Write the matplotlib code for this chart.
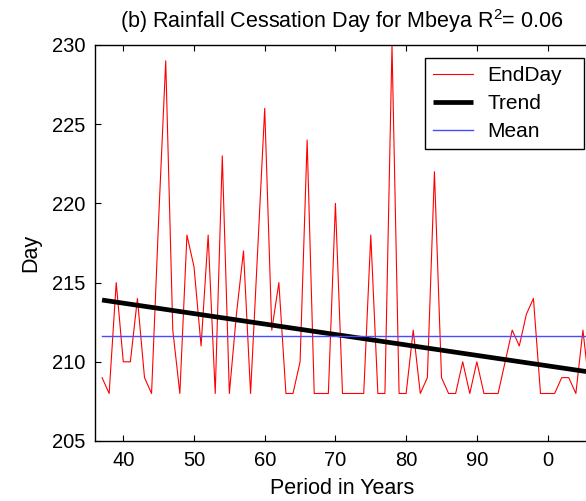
import matplotlib
matplotlib.use("Agg")
import matplotlib.pyplot as plt
import numpy as np

plt.rcParams["font.family"] = ["Liberation Sans", "DejaVu Sans"]
plt.rcParams["mathtext.fontset"] = "custom"
plt.rcParams["mathtext.rm"] = "Liberation Sans"

# cessation day per year (1937-2006)
years = list(range(1937, 2007))
end_day = [209, 208, 215, 210, 210, 214, 209, 208, 219, 229,
           212, 208, 218, 216, 211, 218, 208, 223, 208, 213,
           217, 208, 217, 226, 212, 215, 208, 208, 210, 224,
           208, 208, 208, 220, 208, 208, 208, 208, 218, 208,
           208, 230, 208, 208, 212, 208, 209, 222, 209, 208,
           208, 210, 208, 210, 208, 208, 208, 210, 212, 211,
           213, 214, 208, 208, 208, 209, 209, 208, 212, 208]
trend_years = [1937, 2006]
trend_vals = [213.9, 209.35]
mean_day = 211.63

xticks = [40, 50, 60, 70, 80, 90, 100]
xticklabels = ["40", "50", "60", "70", "80", "90", "0"]
yticks = [205, 210, 215, 220, 225, 230]

W, H = 586, 501
fig = plt.figure(figsize=(W / 100, H / 100), dpi=100)
ax = fig.add_axes([95 / W, 1 - 441 / H, 495 / W, 396 / H])

x = np.array(years) - 1900
ax.plot(x, end_day, color="#ff0000", lw=0.8, label="EndDay")
ax.plot(np.array(trend_years) - 1900, trend_vals, color="black", lw=3.4,
        label="Trend", solid_capstyle="butt")
ax.plot([x[0], x[-1]], [mean_day, mean_day], color="#4a4aff", lw=1.0,
        label="Mean")

ax.set_xlim(36, 106)
ax.set_ylim(205, 230)
ax.set_xticks(xticks)
ax.set_xticklabels(xticklabels)
ax.set_yticks(yticks)
ax.tick_params(direction="in", length=4, width=0.8, top=True, right=False,
               labelsize=14.5, colors="black")
ax.tick_params(axis="x", pad=7)
ax.tick_params(axis="y", pad=7)
for s in ax.spines.values():
    s.set_linewidth(1.0)
ax.spines["right"].set_visible(False)

fig.text(342 / W, 1 - 21 / H,
         r"(b) Rainfall Cessation Day for Mbeya $\mathregular{R^{2}}$= 0.06",
         ha="center", va="center", fontsize=15.5)
fig.text(342 / W, 1 - 488 / H, "Period in Years", ha="center", va="center",
         fontsize=15.5)
fig.text(31 / W, 1 - 253 / H, "Day", ha="center", va="center", rotation=90,
         fontsize=15.5)

leg = ax.legend(loc="upper left",
                bbox_to_anchor=(425 / W, 1 - 150 / H, 159 / W, 92 / H),
                bbox_transform=fig.transFigure, borderaxespad=0, mode="expand",
                fancybox=False, edgecolor="black", framealpha=1,
                fontsize=15, handlelength=1.9, handletextpad=0.7,
                labelspacing=0.43, borderpad=0.38)
leg.get_frame().set_linewidth(1.0)

fig.savefig("out.png", dpi=100)
